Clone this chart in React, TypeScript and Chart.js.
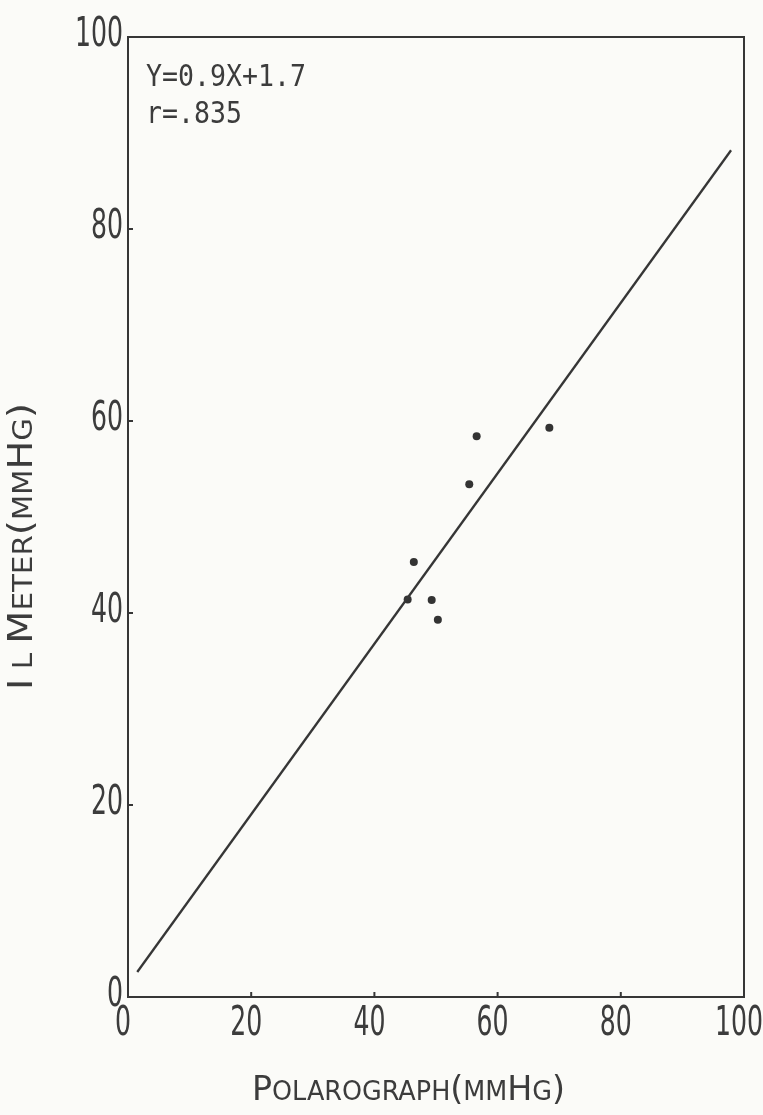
import React, { useEffect, useRef } from "react";
import { Chart, registerables } from "chart.js";

Chart.register(...registerables);

// ---- data ----
const polarograph = [45.4, 46.4, 49.3, 50.3, 55.4, 56.6, 68.4];
const ilMeter = [41.4, 45.3, 41.35, 39.3, 53.4, 58.4, 59.3];
const fitX = [1.5, 97.9];
const fitY = [2.6, 88.2];
const tickValues = [0, 20, 40, 60, 80, 100];
const xTickLabels = ["0", "20", "40", "60", "80", "100"];
const yTickLabels = ["0", "20", "40", "60", "80", "100"];
const annotationLines = ["Y=0.9X+1.7", "r=.835"];
// small-caps segments: [text, isBig]
const xTitle: [string, boolean][] = [
  ["P", true], ["OLAROGRAPH", false], ["(", true], ["MM", false], ["H", true], ["G", false], [")", true],
];
const yTitle: [string, boolean][] = [
  ["I", true], [" ", false], ["L", false], [" ", false], ["M", true], ["ETER", false], ["(", true], ["MM", false], ["H", true], ["G", false], [")", true],
];

const INK = "#363636";
const NARROW = '"Liberation Sans Narrow", "DejaVu Sans Condensed", "Liberation Sans", sans-serif';

function fitText(ctx: CanvasRenderingContext2D, text: string, font: string, x: number, y: number, width: number, align: "left" | "right" | "center") {
  ctx.save();
  ctx.font = font;
  const nat = ctx.measureText(text).width || 1;
  const sx = width / nat;
  let x0 = x;
  if (align === "right") x0 = x - width;
  else if (align === "center") x0 = x - width / 2;
  ctx.translate(x0, y);
  ctx.scale(sx, 1);
  ctx.textAlign = "left";
  ctx.textBaseline = "alphabetic";
  ctx.fillText(text, 0, 0);
  ctx.restore();
}

function drawSmallCaps(ctx: CanvasRenderingContext2D, segs: [string, boolean][], width: number) {
  const big = `34px ${NARROW}`;
  const small = `26px ${NARROW}`;
  let total = 0;
  const widths = segs.map(([t, b]) => {
    ctx.font = b ? big : small;
    const w = ctx.measureText(t).width;
    total += w;
    return w;
  });
  const sx = width / total;
  ctx.save();
  ctx.scale(sx, 1);
  let cx = 0;
  ctx.textAlign = "left";
  ctx.textBaseline = "alphabetic";
  segs.forEach(([t, b], i) => {
    ctx.font = b ? big : small;
    ctx.fillText(t, cx, 0);
    cx += widths[i];
  });
  ctx.restore();
}

const decorPlugin = {
  id: "decor",
  beforeDraw(chart: any) {
    const { ctx, width, height } = chart;
    ctx.save();
    ctx.fillStyle = "#fbfbf8";
    ctx.fillRect(0, 0, width, height);
    ctx.restore();
  },
  afterDraw(chart: any) {
    const { ctx, chartArea } = chart;
    const { left, right, top, bottom } = chartArea;
    const xs = chart.scales.x;
    const ys = chart.scales.y;
    ctx.save();
    ctx.strokeStyle = INK;
    ctx.lineWidth = 2;
    ctx.strokeRect(left, top, right - left, bottom - top);
    // inward tick marks
    tickValues.forEach((v) => {
      if (v <= 0 || v >= 100) return;
      const px = xs.getPixelForValue(v);
      ctx.beginPath();
      ctx.moveTo(px, bottom);
      ctx.lineTo(px, bottom - 5);
      ctx.stroke();
      const py = ys.getPixelForValue(v);
      ctx.beginPath();
      ctx.moveTo(left, py);
      ctx.lineTo(left + 5, py);
      ctx.stroke();
    });
    ctx.fillStyle = "#3c3c3c";
    // tick labels
    const tickFont = `40px ${NARROW}`;
    tickValues.forEach((v, i) => {
      const px = xs.getPixelForValue(v);
      const t = xTickLabels[i];
      fitText(ctx, t, tickFont, px - 5, bottom + 38, 16 * t.length, "center");
      const py = ys.getPixelForValue(v);
      const ty = yTickLabels[i];
      fitText(ctx, ty, tickFont, left - 5, py + 9, 16 * ty.length, "right");
    });
    // annotation
    const monoFont = '31px "DejaVu Sans Mono", "Liberation Mono", monospace';
    annotationLines.forEach((line, i) => {
      fitText(ctx, line, monoFont, left + 18, top + 49 + i * 37, 16 * line.length, "left");
    });
    // x title
    ctx.save();
    ctx.translate(252, 1100);
    drawSmallCaps(ctx, xTitle, 313);
    ctx.restore();
    // y title
    ctx.save();
    ctx.translate(32, 690);
    ctx.rotate(-Math.PI / 2);
    drawSmallCaps(ctx, yTitle, 287);
    ctx.restore();
    ctx.restore();
  },
};

export default function App() {
  const ref = useRef<HTMLCanvasElement | null>(null);
  useEffect(() => {
    document.body.style.margin = "0";
    const canvas = ref.current;
    if (!canvas) return;
    const chart = new Chart(canvas, {
      type: "scatter",
      data: {
        datasets: [
          {
            type: "line",
            label: "fit",
            data: fitX.map((x, i) => ({ x, y: fitY[i] })),
            borderColor: INK,
            borderWidth: 2.3,
            pointRadius: 0,
            fill: false,
          } as any,
          {
            type: "scatter",
            label: "points",
            data: polarograph.map((x, i) => ({ x, y: ilMeter[i] })),
            backgroundColor: "#333333",
            borderColor: "#333333",
            pointRadius: 4,
            borderWidth: 0,
          },
        ],
      },
      options: {
        responsive: false,
        animation: false,
        devicePixelRatio: 1,
        layout: { padding: { left: 0, top: 37, right: 19, bottom: 0 } },
        plugins: { legend: { display: false }, tooltip: { enabled: false } },
        scales: {
          x: {
            type: "linear",
            min: 0,
            max: 100,
            ticks: { display: false, stepSize: 20 },
            grid: { display: false },
            border: { display: false },
            afterFit: (s: any) => { s.height = 118; },
          },
          y: {
            type: "linear",
            min: 0,
            max: 100,
            ticks: { display: false, stepSize: 20 },
            grid: { display: false },
            border: { display: false },
            afterFit: (s: any) => { s.width = 128; },
          },
        },
      } as any,
      plugins: [decorPlugin],
    });
    return () => chart.destroy();
  }, []);
  return (
    <div style={{ width: 763, height: 1115 }}>
      <canvas ref={ref} width={763} height={1115} style={{ display: "block" }} />
    </div>
  );
}
